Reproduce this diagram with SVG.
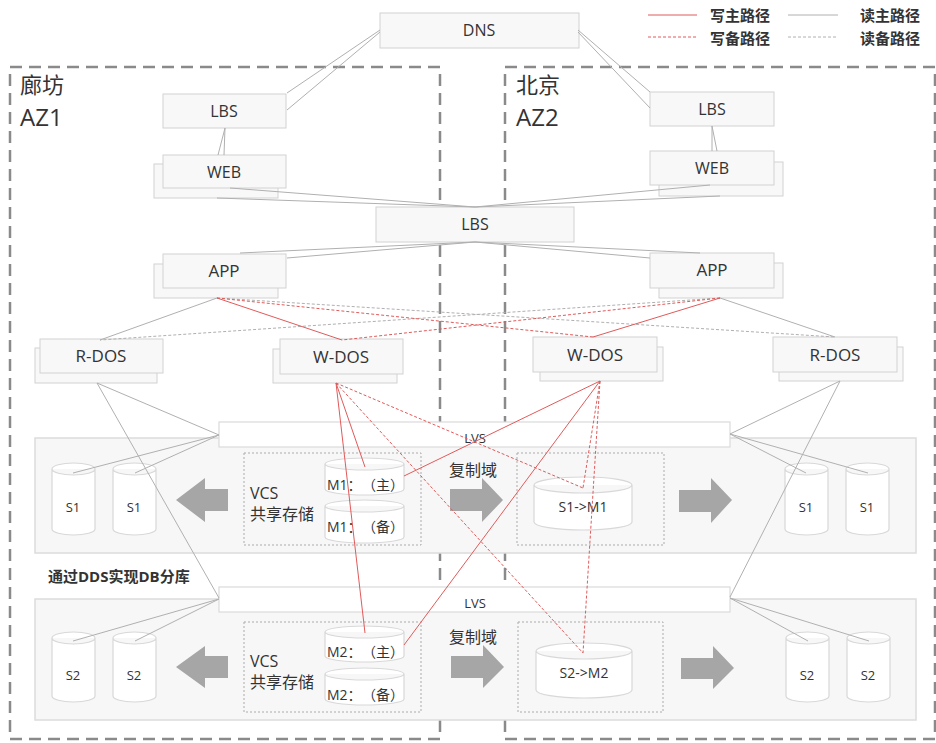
<svg xmlns="http://www.w3.org/2000/svg" width="936" height="743" viewBox="0 0 936 743">
<style>
.t{font-family:"Open Sans","Noto Sans CJK SC",sans-serif;fill:#333}
.box{fill:#f8f8f8;stroke:#d2d2d2;stroke-width:1}
.az{fill:none;stroke:#8a8a8a;stroke-width:2.5;stroke-dasharray:12 7}
.panel{fill:#f7f7f7;stroke:#dcdcdc;stroke-width:1.5}
.bar{fill:#fff;stroke:#dadada;stroke-width:1.2}
.vbox{fill:none;stroke:#ababab;stroke-width:1;stroke-dasharray:2 2}
.cyl{fill:#fff;stroke:#d8d8d8;stroke-width:1.2}
.arr{fill:#a6a6a6}
.g{stroke:#b0b0b0;stroke-width:1;fill:none}
.gd{stroke:#b0b0b0;stroke-width:1;fill:none;stroke-dasharray:3 2}
.r{stroke:#e05a5a;stroke-width:1;fill:none}
.rd{stroke:#e05a5a;stroke-width:1;fill:none;stroke-dasharray:3 2}
</style>
<rect width="936" height="743" fill="#fff"/>

<!-- AZ regions -->
<g id="az1">
<rect class="az" x="10" y="67" width="430" height="672"/>
<text class="t" x="20" y="93" font-size="22">廊坊</text>
<text class="t" x="20" y="126" font-size="24">AZ1</text>
</g>
<g id="az2">
<rect class="az" x="505" y="67" width="430" height="672"/>
<text class="t" x="516" y="93" font-size="22">北京</text>
<text class="t" x="516" y="126" font-size="24">AZ2</text>
</g>

<!-- legend -->
<g id="legend">
<line class="r" x1="648" y1="15" x2="697" y2="15" stroke-width="1.5"/>
<text class="t" x="710" y="21" font-size="15" font-weight="bold">写主路径</text>
<line class="g" x1="788" y1="15" x2="838" y2="15" stroke-width="1.5"/>
<text class="t" x="860" y="21" font-size="15" font-weight="bold">读主路径</text>
<line class="rd" x1="648" y1="37" x2="697" y2="37"/>
<text class="t" x="710" y="44" font-size="15" font-weight="bold">写备路径</text>
<line class="gd" x1="788" y1="37" x2="838" y2="37"/>
<text class="t" x="860" y="44" font-size="15" font-weight="bold">读备路径</text>
</g>

<!-- DB bands -->
<g id="band1">
<rect class="panel" x="35" y="438" width="881" height="115"/>
</g>
<g id="band2">
<rect class="panel" x="35" y="599" width="881" height="121"/>
</g>
<g id="lvs1">
<rect class="bar" x="219" y="422" width="511" height="25"/>
<text class="t" x="475" y="443" font-size="13" text-anchor="middle">LVS</text>
</g>
<g id="lvs2">
<rect class="bar" x="219" y="587" width="511" height="25"/>
<text class="t" x="475" y="608" font-size="13" text-anchor="middle">LVS</text>
</g>
<text class="t" x="48" y="582" font-size="15" font-weight="bold">通过DDS实现DB分库</text>

<!-- top nodes -->
<g id="dns">
<rect class="box" x="380" y="13" width="199" height="35"/>
<text class="t" x="479" y="36" font-size="16" text-anchor="middle">DNS</text>
</g>
<g id="lbs-left">
<rect class="box" x="163" y="94" width="123" height="34"/>
<text class="t" x="224" y="117" font-size="16" text-anchor="middle">LBS</text>
</g>
<g id="lbs-right">
<rect class="box" x="650" y="92" width="124" height="34"/>
<text class="t" x="712" y="115" font-size="16" text-anchor="middle">LBS</text>
</g>
<g id="web-left">
<rect class="box" x="154" y="164" width="124" height="34"/>
<rect class="box" x="163" y="155" width="123" height="33"/>
<text class="t" x="224" y="178" font-size="16" text-anchor="middle">WEB</text>
</g>
<g id="web-right">
<rect class="box" x="659" y="162" width="124" height="34"/>
<rect class="box" x="650" y="151" width="124" height="34"/>
<text class="t" x="712" y="174" font-size="16" text-anchor="middle">WEB</text>
</g>
<g id="lbs-mid">
<rect class="box" x="376" y="207" width="198" height="35"/>
<text class="t" x="475" y="230" font-size="16" text-anchor="middle">LBS</text>
</g>
<g id="app-left">
<rect class="box" x="154" y="264" width="124" height="34"/>
<rect class="box" x="163" y="254" width="123" height="34"/>
<text class="t" x="224" y="277" font-size="17" text-anchor="middle">APP</text>
</g>
<g id="app-right">
<rect class="box" x="659" y="263" width="124" height="35"/>
<rect class="box" x="650" y="253" width="124" height="35"/>
<text class="t" x="712" y="276" font-size="17" text-anchor="middle">APP</text>
</g>
<g id="rdos-left">
<rect class="box" x="35" y="348" width="122" height="35"/>
<rect class="box" x="40" y="339" width="123" height="34"/>
<text class="t" x="101" y="362" font-size="17" text-anchor="middle">R-DOS</text>
</g>
<g id="wdos-left">
<rect class="box" x="273" y="349" width="124" height="34"/>
<rect class="box" x="280" y="339" width="123" height="35"/>
<text class="t" x="341" y="363" font-size="17" text-anchor="middle">W-DOS</text>
</g>
<g id="wdos-right">
<rect class="box" x="540" y="347" width="123" height="34"/>
<rect class="box" x="533" y="337" width="124" height="35"/>
<text class="t" x="595" y="361" font-size="17" text-anchor="middle">W-DOS</text>
</g>
<g id="rdos-right">
<rect class="box" x="779" y="347" width="124" height="34"/>
<rect class="box" x="773" y="337" width="124" height="35"/>
<text class="t" x="835" y="361" font-size="17" text-anchor="middle">R-DOS</text>
</g>

<!-- band 1 contents -->
<g id="s1-l1"><path class="cyl" d="M52,469 A21.5,6 0 0 1 95,469 V529 A21.5,6 0 0 1 52,529 Z M52,469 A21.5,6 0 0 0 95,469"/><text class="t" x="73" y="512" font-size="13" text-anchor="middle">S1</text></g>
<g id="s1-l2"><path class="cyl" d="M113,469 A21.5,6 0 0 1 156,469 V529 A21.5,6 0 0 1 113,529 Z M113,469 A21.5,6 0 0 0 156,469"/><text class="t" x="134" y="512" font-size="13" text-anchor="middle">S1</text></g>
<g id="arrow1-l"><polygon class="arr" points="176,500 205,478 205,489 228,489 228,511 205,511 205,522"/></g>
<g id="vcs1">
<rect class="vbox" x="244" y="453" width="177" height="92"/>
<text class="t" x="250" y="499" font-size="16">VCS</text>
<text class="t" x="250" y="520" font-size="16">共享存储</text>
</g>
<g id="m1-main"><path class="cyl" d="M325,464 A39.5,6 0 0 1 404,464 V489 A39.5,6 0 0 1 325,489 Z M325,464 A39.5,6 0 0 0 404,464"/><text class="t" x="327" y="490" font-size="14">M1：<tspan x="362">（主）</tspan></text></g>
<g id="m1-bak"><path class="cyl" d="M325,506 A39.5,6 0 0 1 404,506 V537 A39.5,6 0 0 1 325,537 Z M325,506 A39.5,6 0 0 0 404,506"/><text class="t" x="327" y="532" font-size="14">M1：<tspan x="362">（备）</tspan></text></g>
<text class="t" x="449" y="476" font-size="16">复制域</text>
<g id="arrow1-m"><polygon class="arr" points="450,489 482,489 482,478 503,500 482,522 482,511 450,511"/></g>
<g id="rep1">
<rect class="vbox" x="517" y="453" width="147" height="92"/>
<path class="cyl" d="M534,485 A49,8 0 0 1 632,485 V522 A49,8 0 0 1 534,522 Z M534,485 A49,8 0 0 0 632,485"/>
<text class="t" x="583" y="512" font-size="14" text-anchor="middle">S1-&gt;M1</text>
</g>
<g id="arrow1-r"><polygon class="arr" points="679,490 711,490 711,478 732,500 711,523 711,512 679,512"/></g>
<g id="s1-r1"><path class="cyl" d="M785,469 A21.5,6 0 0 1 828,469 V529 A21.5,6 0 0 1 785,529 Z M785,469 A21.5,6 0 0 0 828,469"/><text class="t" x="806" y="512" font-size="13" text-anchor="middle">S1</text></g>
<g id="s1-r2"><path class="cyl" d="M846,469 A21.5,6 0 0 1 889,469 V529 A21.5,6 0 0 1 846,529 Z M846,469 A21.5,6 0 0 0 889,469"/><text class="t" x="867" y="512" font-size="13" text-anchor="middle">S1</text></g>

<!-- band 2 contents -->
<g id="s2-l1"><path class="cyl" d="M52,638 A21.5,6 0 0 1 95,638 V696 A21.5,6 0 0 1 52,696 Z M52,638 A21.5,6 0 0 0 95,638"/><text class="t" x="73" y="680" font-size="13" text-anchor="middle">S2</text></g>
<g id="s2-l2"><path class="cyl" d="M113,638 A21.5,6 0 0 1 156,638 V696 A21.5,6 0 0 1 113,696 Z M113,638 A21.5,6 0 0 0 156,638"/><text class="t" x="134" y="680" font-size="13" text-anchor="middle">S2</text></g>
<g id="arrow2-l"><polygon class="arr" points="176,667 205,646 205,656 228,656 228,678 205,678 205,688"/></g>
<g id="vcs2">
<rect class="vbox" x="244" y="622" width="177" height="90"/>
<text class="t" x="250" y="667" font-size="16">VCS</text>
<text class="t" x="250" y="688" font-size="16">共享存储</text>
</g>
<g id="m2-main"><path class="cyl" d="M325,632 A39.5,6 0 0 1 404,632 V656 A39.5,6 0 0 1 325,656 Z M325,632 A39.5,6 0 0 0 404,632"/><text class="t" x="327" y="657" font-size="14">M2：<tspan x="362">（主）</tspan></text></g>
<g id="m2-bak"><path class="cyl" d="M325,674 A39.5,6 0 0 1 404,674 V699 A39.5,6 0 0 1 325,699 Z M325,674 A39.5,6 0 0 0 404,674"/><text class="t" x="327" y="700" font-size="14">M2：<tspan x="362">（备）</tspan></text></g>
<text class="t" x="449" y="643" font-size="16">复制域</text>
<g id="arrow2-m"><polygon class="arr" points="451,656 483,656 483,645 504,667 483,688 483,678 451,678"/></g>
<g id="rep2">
<rect class="vbox" x="518" y="622" width="145" height="90"/>
<path class="cyl" d="M536,651 A48,8 0 0 1 632,651 V690 A48,8 0 0 1 536,690 Z M536,651 A48,8 0 0 0 632,651"/>
<text class="t" x="584" y="678" font-size="14" text-anchor="middle">S2-&gt;M2</text>
</g>
<g id="arrow2-r"><polygon class="arr" points="681,658 713,658 713,646 734,668 713,689 713,679 681,679"/></g>
<g id="s2-r1"><path class="cyl" d="M786,638 A21.5,6 0 0 1 829,638 V696 A21.5,6 0 0 1 786,696 Z M786,638 A21.5,6 0 0 0 829,638"/><text class="t" x="807" y="680" font-size="13" text-anchor="middle">S2</text></g>
<g id="s2-r2"><path class="cyl" d="M847,638 A21.5,6 0 0 1 890,638 V696 A21.5,6 0 0 1 847,696 Z M847,638 A21.5,6 0 0 0 890,638"/><text class="t" x="868" y="680" font-size="13" text-anchor="middle">S2</text></g>

<!-- connectors -->
<g id="connectors">
<path class="g" d="M380,30 L287,93 M380,32 L287,110 M578,30 L650,92 M578,32 L650,108
M225,128 L218,155 M225,128 L224,155 M712,126 L712,151 M712,126 L717,151
M230,188 L475,207 M217,198 L475,207 M710,185 L475,207 M720,196 L475,207
M475,242 L287,258 M475,242 L240,253 M475,242 L650,258 M475,242 L700,253
M217,298 L100,340 M720,298 L835,337
M97,383 L219,435 M97,383 L219,598 M840,381 L730,434 M840,381 L730,597
M219,435 L73,473 M219,435 L135,473 M730,434 L806,473 M730,434 L868,473
M219,599 L73,641 M219,599 L135,641 M730,598 L808,641 M730,598 L869,641"/>
<path class="gd" d="M217,298 L835,337 M720,298 L100,340"/>
<path class="r" d="M217,298 L342,340 M720,298 L593,337
M336,383 L365,467 M336,383 L365,633 M600,381 L404,476 M600,381 L404,645"/>
<path class="rd" d="M217,298 L593,337 M720,298 L342,340
M336,383 L583,488 M336,383 L583,653 M600,381 L583,488 M600,381 L583,653"/>
</g>
</svg>
